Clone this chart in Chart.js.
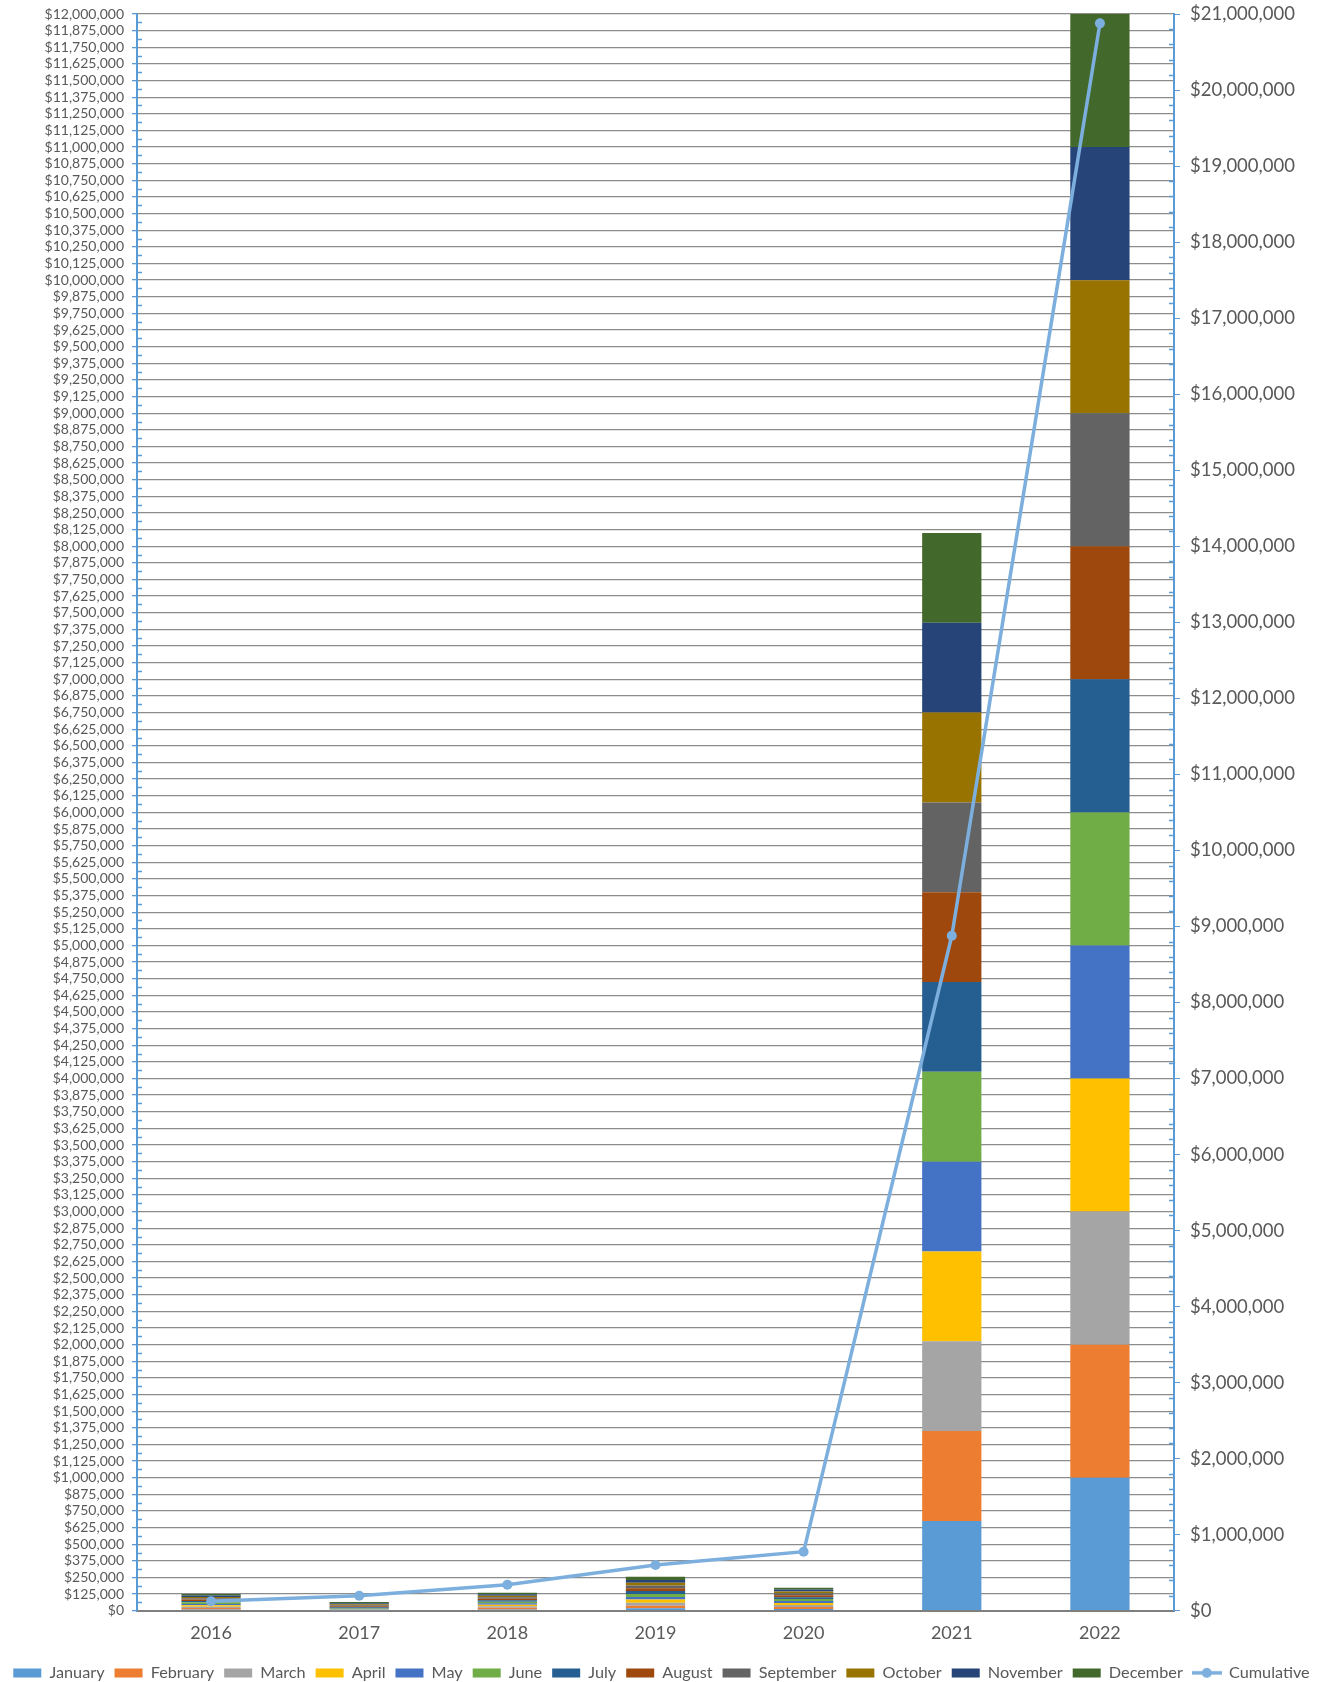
<!DOCTYPE html>
<html lang="en">
<head>
<meta charset="UTF-8">
<script src="https://cdn.jsdelivr.net/npm/chart.js"></script>
<style>
  body { margin: 0; background: #fff; }
  #wrap { width: 1323px; height: 1682px; position: relative; }
</style>
</head>
<body>
<div id="wrap"><canvas id="myChart"></canvas></div>
<script>
// data
const years = ['2016', '2017', '2018', '2019', '2020', '2021', '2022']
const january   = [9000, 2000, 10000, 18000, 14000, 675000, 1000000]
const february  = [11000, 2000, 12000, 20000, 15000, 675000, 1000000]
const march     = [10000, 3000, 11000, 22000, 14000, 675000, 1000000]
const april     = [11000, 3000, 12000, 24000, 16000, 675000, 1000000]
const may       = [10000, 5000, 11000, 20000, 15000, 675000, 1000000]
const june      = [12000, 6000, 12000, 22000, 14000, 675000, 1000000]
const july      = [10000, 6000, 11000, 22000, 14000, 675000, 1000000]
const august    = [11000, 7000, 12000, 21000, 15000, 675000, 1000000]
const september = [10000, 7000, 11000, 20000, 14000, 675000, 1000000]
const october   = [10000, 8000, 11000, 22000, 14000, 675000, 1000000]
const november  = [11000, 8000, 11000, 20000, 14000, 675000, 1000000]
const december  = [10000, 8000, 11000, 25000, 14000, 675000, 1000000]
const cumulative = [125000, 197000, 342000, 602000, 777000, 8877000, 20877000]

const monthNames = ['January', 'February', 'March', 'April', 'May', 'June', 'July',
  'August', 'September', 'October', 'November', 'December']
const monthData = [january, february, march, april, may, june, july,
  august, september, october, november, december]
const monthColors = ['#5b9bd5', '#ed7d31', '#a5a5a5', '#ffc000', '#4472c4', '#70ad47',
  '#255e91', '#9e480e', '#636363', '#997300', '#264478', '#43682b']

const textColor = '#595959'
const axisBlue = '#5b9bd5'
const lineBlue = '#7cafdd'
const font = 'Lato, "Open Sans", sans-serif'

function money(v) {
  return '$' + Math.round(v).toLocaleString('en-US')
}

// legend swatch for the line: short line with a dot
const lineSwatch = document.createElement('canvas')
lineSwatch.width = 30
lineSwatch.height = 12
{
  const c = lineSwatch.getContext('2d')
  c.strokeStyle = lineBlue
  c.fillStyle = lineBlue
  c.lineWidth = 3.5
  c.beginPath()
  c.moveTo(0, 6)
  c.lineTo(30, 6)
  c.stroke()
  c.beginPath()
  c.arc(15, 6, 5, 0, Math.PI * 2)
  c.fill()
}

const datasets = monthNames.map((name, i) => ({
  type: 'bar',
  label: name,
  data: monthData[i],
  backgroundColor: monthColors[i],
  yAxisID: 'y',
  stack: 'months',
  order: 1,
  barPercentage: 0.4,
  categoryPercentage: 1
}))
datasets.push({
  type: 'line',
  label: 'Cumulative',
  data: cumulative,
  yAxisID: 'y1',
  borderColor: lineBlue,
  backgroundColor: lineBlue,
  borderWidth: 3.5,
  pointRadius: 5,
  pointBackgroundColor: lineBlue,
  pointBorderWidth: 0,
  order: 0
})

// small inner ticks on both value axes
const minorTicks = {
  id: 'minorTicks',
  afterDraw(chart) {
    const ctx = chart.ctx
    const y = chart.scales.y
    const y1 = chart.scales.y1
    ctx.save()
    ctx.strokeStyle = axisBlue
    ctx.lineWidth = 1.5
    ctx.beginPath()
    for (let v = 62500; v < 12000000; v += 125000) {
      const p = Math.round(y.getPixelForValue(v)) + 0.5
      ctx.moveTo(y.right, p)
      ctx.lineTo(y.right + 5, p)
    }
    for (let v = 0; v < 21000000; v += 200000) {
      if (v % 1000000 === 0) continue
      const p = Math.round(y1.getPixelForValue(v)) + 0.5
      ctx.moveTo(y1.left, p)
      ctx.lineTo(y1.left - 5, p)
    }
    ctx.stroke()
    ctx.restore()
  }
}

new Chart(document.getElementById('myChart'), {
  data: { labels: years, datasets: datasets },
  plugins: [minorTicks],
  options: {
    responsive: true,
    maintainAspectRatio: false,
    animation: false,
    layout: { padding: { top: 14, left: 0, right: 0, bottom: -9 } },
    plugins: {
      tooltip: { enabled: false },
      legend: {
        position: 'bottom',
        labels: {
          color: textColor,
          font: { family: font, size: 16.25 },
          usePointStyle: true,
          pointStyleWidth: 28,
          boxHeight: 9,
          padding: 10,
          sort: (a, b) => a.datasetIndex - b.datasetIndex,
          generateLabels: (chart) => {
            const items = Chart.defaults.plugins.legend.labels.generateLabels(chart)
            items.forEach(it => {
              if (it.text === 'Cumulative') {
                it.pointStyle = lineSwatch
              } else {
                it.pointStyle = 'rect'
                it.lineWidth = 0
              }
            })
            return items
          }
        }
      }
    },
    scales: {
      x: {
        stacked: true,
        grid: { display: false },
        border: { color: '#7f7f7f', width: 2 },
        ticks: { color: textColor, font: { family: font, size: 18 }, padding: 4 },
        afterFit: (s) => { s.height = 44 }
      },
      y: {
        stacked: true,
        position: 'left',
        min: 0,
        max: 12000000,
        grid: { color: '#8c8c8c', lineWidth: 1.3, tickColor: axisBlue, tickLength: 5 },
        border: { color: axisBlue, width: 2 },
        ticks: {
          stepSize: 125000,
          autoSkip: false,
          color: textColor,
          font: { family: font, size: 14 },
          padding: 8,
          callback: (v) => money(v)
        },
        afterFit: (s) => { s.width = 137; s.paddingTop = 0; s.paddingBottom = 0 }
      },
      y1: {
        position: 'right',
        min: 0,
        max: 21000000,
        grid: { drawOnChartArea: false, tickColor: axisBlue, tickLength: 6 },
        border: { color: axisBlue, width: 2 },
        ticks: {
          stepSize: 1000000,
          autoSkip: false,
          color: textColor,
          font: { family: font, size: 18.5 },
          padding: 10,
          callback: (v) => money(v)
        },
        afterFit: (s) => { s.width = 149; s.paddingTop = 0; s.paddingBottom = 0 }
      }
    }
  }
})
</script>
</body>
</html>
